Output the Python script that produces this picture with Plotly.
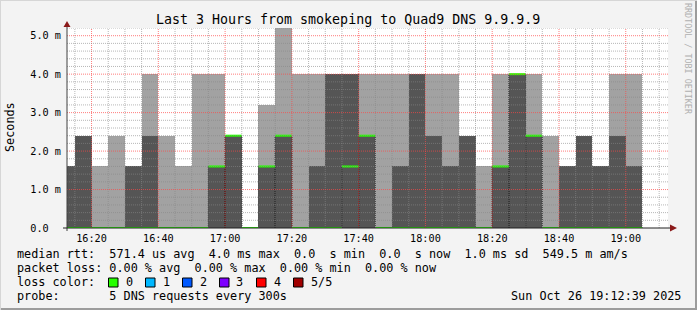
import plotly.graph_objects as go
from datetime import datetime, timedelta

# ---------------- data (values in ms) ----------------
day = "2025-10-26"
bin_starts = ["16:10", "16:15", "16:20", "16:25", "16:30", "16:35", "16:40", "16:45",
              "16:50", "16:55", "17:00", "17:05", "17:10", "17:15", "17:20", "17:25",
              "17:30", "17:35", "17:40", "17:45", "17:50", "17:55", "18:00", "18:05",
              "18:10", "18:15", "18:20", "18:25", "18:30", "18:35", "18:40", "18:45",
              "18:50", "18:55", "19:00"]
smoke_outer = [0, 0, 1.6, 2.4, 0, 4.0, 2.4, 1.6, 4.0, 4.0, 0, 0, 3.2, 5.2, 4.0, 4.0,
               0, 0, 4.0, 4.0, 4.0, 0, 4.0, 4.0, 0, 1.6, 4.0, 0, 4.0, 2.4, 0, 0,
               0, 4.0, 4.0]
smoke_inner = [1.6, 2.4, 0, 0, 1.6, 2.4, 0, 0, 0, 1.6, 2.4, 0, 1.6, 2.4, 0, 1.6,
               4.0, 4.0, 2.4, 0, 1.6, 4.0, 2.4, 1.6, 2.4, 0, 1.6, 4.0, 2.4, 0, 1.6, 2.4,
               1.6, 2.4, 1.6]
median = [0, 0, 0, 0, 0, 0, 0, 0, 0, 1.6, 2.4, 0, 1.6, 2.4, 0, 0,
          0, 1.6, 2.4, 0, 0, 0, 0, 0, 0, 0, 1.6, 4.0, 2.4, 0, 0, 0,
          0, 0, 0]
y_tick_vals = [0, 1, 2, 3, 4, 5]
y_tick_text = ["0.0\u00a0\u00a0", "1.0 m", "2.0 m", "3.0 m", "4.0 m", "5.0 m"]
loss_labels = ["0", "1", "2", "3", "4", "5/5"]
loss_colors = ["#26ff00", "#00b8ff", "#0059ff", "#7e00ff", "#ff0000", "#a10000"]

title = "Last 3 Hours from smokeping to Quad9 DNS 9.9.9.9"
legend_lines = [
    "median rtt:  571.4 us avg  4.0 ms max  0.0  s min  0.0  s now  1.0 ms sd  549.5 m am/s",
    "packet loss: 0.00 % avg  0.00 % max  0.00 % min  0.00 % now",
    "loss color:",
    "probe:       5 DNS requests every 300s",
]
stamp = "Sun Oct 26 19:12:39 2025"
step_ms = 300000

# ---------------- geometry ----------------
W, H = 697, 310
L, R, T, B = 67, 29, 28, 82
PW, PH = W - L - R, H - T - B
FONT = "DejaVu Sans Mono"

def px(x):
    return (x - L) / PW

def py(y):
    return (H - B - y) / PH

t_end = datetime(2025, 10, 26, 19, 12, 39)
t_start = t_end - timedelta(hours=3)
starts = [datetime.fromisoformat(f"{day} {s}:00") for s in bin_starts]
ends = [s + timedelta(milliseconds=step_ms) for s in starts]

fig = go.Figure()
fig.add_trace(go.Bar(x=starts, y=smoke_outer, width=[step_ms] * len(starts), offset=0,
                     marker=dict(color="#a2a2a2", line=dict(width=0)), hoverinfo="skip"))
fig.add_trace(go.Bar(x=starts, y=smoke_inner, width=[step_ms] * len(starts), offset=0,
                     marker=dict(color="#555555", line=dict(width=0)), hoverinfo="skip"))

# dotted edges of median steps
ex, ey = [], []
for s, e, m in zip(starts, ends, median):
    if m > 0:
        ex += [s, s, None, e, e, None]
        ey += [0, m, None, 0, m, None]
fig.add_trace(go.Scatter(x=ex, y=ey, mode="lines",
                         line=dict(color="#000000", width=1, dash="1px,1px"), hoverinfo="skip"))
# median line
mx, my = [], []
for s, e, m in zip(starts, ends, median):
    mx += [s, e, None]
    my += [m, m, None]
fig.add_trace(go.Scatter(x=mx, y=my, mode="lines", line=dict(color=loss_colors[0], width=2),
                         hoverinfo="skip"))

shapes = []
MINOR = "rgba(135,135,135,0.6)"
MAJOR = "rgba(255,70,70,0.7)"
# grid (drawn above the smoke, as rrdtool does)
t = datetime(2025, 10, 26, 16, 15)
while t < t_end:
    major = t.minute % 20 == 0
    shapes.append(dict(type="line", xref="x", yref="paper", x0=t, x1=t, y0=0, y1=1,
                       layer="above",
                       line=dict(color=MAJOR if major else MINOR, width=1, dash="1px,1px")))
    t += timedelta(minutes=5)
for k in range(1, 27):
    v = k * 0.2
    major = k % 5 == 0
    shapes.append(dict(type="line", xref="paper", yref="y", x0=0, x1=1, y0=v, y1=v,
                       layer="above",
                       line=dict(color=MAJOR if major else MINOR, width=1, dash="1px,1px")))

# axes lines and arrows
shapes.append(dict(type="line", xref="paper", yref="paper", x0=px(67), x1=px(67),
                   y0=py(231), y1=py(26), line=dict(color="#404040", width=1)))
shapes.append(dict(type="line", xref="paper", yref="paper", x0=px(63), x1=px(670),
                   y0=py(228), y1=py(228), line=dict(color="#202020", width=1)))
shapes.append(dict(type="path", xref="paper", yref="paper",
                   path=f"M {px(63.5)} {py(27)} L {px(70.5)} {py(27)} L {px(67)} {py(21)} Z",
                   fillcolor="#8b1a1a", line=dict(width=0)))
shapes.append(dict(type="path", xref="paper", yref="paper",
                   path=f"M {px(670)} {py(224.5)} L {px(670)} {py(231.5)} L {px(677)} {py(228)} Z",
                   fillcolor="#8b1a1a", line=dict(width=0)))

# frame
shapes.append(dict(type="line", xref="paper", yref="paper", x0=px(0), x1=px(W),
                   y0=py(H - 1), y1=py(H - 1), line=dict(color="#9c9c9c", width=2)))
shapes.append(dict(type="line", xref="paper", yref="paper", x0=px(W - 1), x1=px(W - 1),
                   y0=py(0), y1=py(H), line=dict(color="#9c9c9c", width=2)))
shapes.append(dict(type="line", xref="paper", yref="paper", x0=px(0), x1=px(W),
                   y0=py(0.5), y1=py(0.5), line=dict(color="#d6d6d6", width=1)))
shapes.append(dict(type="line", xref="paper", yref="paper", x0=px(0.5), x1=px(0.5),
                   y0=py(0), y1=py(H), line=dict(color="#d6d6d6", width=1)))

annotations = []
def text(x, y, s, size=11.8, anchor="left", color="#000000", angle=0):
    annotations.append(dict(x=px(x), y=py(y), xref="paper", yref="paper", text=s,
                            showarrow=False, xanchor=anchor, yanchor="middle",
                            textangle=angle,
                            font=dict(family=FONT, size=size, color=color)))

text(348, 19, title, size=13.3, anchor="center")
text(10, 127, "Seconds", size=11.8, anchor="center", angle=-90)
text(688, 59, "RRDTOOL / TOBI OETIKER", size=8.4, anchor="center", color="#b0b0b0", angle=90)
for i, line in enumerate(legend_lines):
    text(15, 254 + 14 * i, line.replace(" ", "\u00a0"))
text(683, 296, stamp.replace(" ", "\u00a0"), anchor="right")
for i, (lab, col) in enumerate(zip(loss_labels, loss_colors)):
    bx = 108.5 + 37 * i
    shapes.append(dict(type="rect", xref="paper", yref="paper", x0=px(bx), x1=px(bx + 9.5),
                       y0=py(287), y1=py(278), fillcolor=col,
                       line=dict(color="#000000", width=1)))
    text(bx + 15, 282, lab)

fig.update_layout(
    width=W, height=H, margin=dict(l=L, r=R, t=T, b=B, pad=0),
    paper_bgcolor="#f3f3f3", plot_bgcolor="#ffffff",
    barmode="overlay", bargap=0, showlegend=False,
    shapes=shapes, annotations=annotations,
    xaxis=dict(type="date", range=[t_start, t_end], showgrid=False, zeroline=False,
               showline=False, tickformat="%H:%M", dtick=1200000,
               tick0=f"{day} 16:20:00", ticks="", ticklabelstandoff=3,
               tickfont=dict(family=FONT, size=10.2, color="#000000")),
    yaxis=dict(range=[0, 5.2], showgrid=False, zeroline=False, showline=False,
               tickmode="array", tickvals=y_tick_vals, ticktext=y_tick_text, ticks="",
               ticklabelstandoff=5,
               tickfont=dict(family=FONT, size=10.2, color="#000000")),
)

fig.write_html("out.html")
